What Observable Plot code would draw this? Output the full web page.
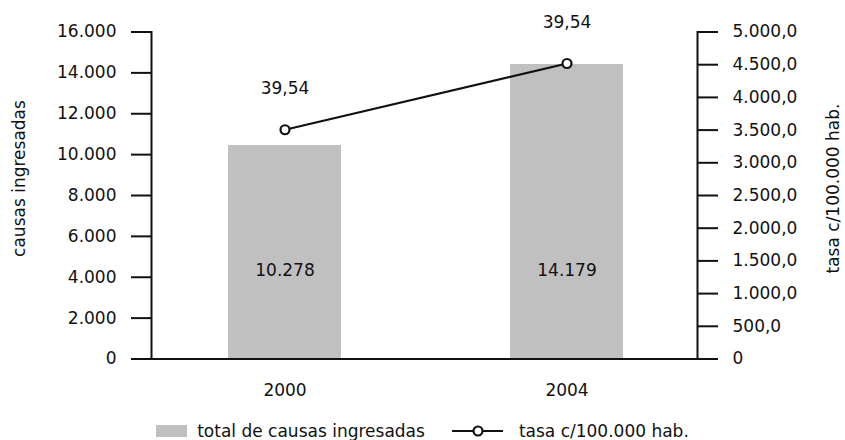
<!DOCTYPE html>
<html>
<head>
<meta charset="utf-8">
<script src="https://cdn.jsdelivr.net/npm/d3@7"></script>
<script src="https://cdn.jsdelivr.net/npm/@observablehq/plot@0.6"></script>
<style>
  body { margin: 0; background: #fff; font-family: "DejaVu Sans", sans-serif; color: #111; }
  #chart { width: 845px; }
  .legend { height: 30px; box-sizing: border-box; padding-top: 12px; display: flex; justify-content: center; align-items: center; font-size: 17px; }
  .legend .sw { display: inline-block; width: 31px; height: 12px; background: #c0c0c0; margin-right: 10px; }
  .legend svg { margin-left: 27px; margin-right: 16px; }
</style>
</head>
<body>
<div id="chart"></div>
<script>
// ---- data ----
const years = ["2000", "2004"];
const causas = [10446, 14410];            // bar heights as drawn (left axis)
const causasLabels = ["10.278", "14.179"]; // printed bar labels
const tasa = [3505, 4518];                // rate points (right axis units)
const tasaLabels = ["39,54", "39,54"];    // printed point labels
const leftTicks = [0, 2000, 4000, 6000, 8000, 10000, 12000, 14000, 16000];
const rightTicks = [0, 500, 1000, 1500, 2000, 2500, 3000, 3500, 4000, 4500, 5000];
const leftMax = 16000, rightMax = 5000;
const leftTitle = "causas ingresadas";
const rightTitle = "tasa c/100.000 hab.";
const legendBar = "total de causas ingresadas";
const legendLine = "tasa c/100.000 hab.";

// ---- build ----
const k = leftMax / rightMax;
const loc = d3.formatLocale({decimal: ",", thousands: ".", grouping: [3], currency: ["$", ""]});
const fInt = loc.format(",d");
const fDec = loc.format(",.1f");
const rows = years.map((y, i) => ({year: y, causas: causas[i], clabel: causasLabels[i], tasa: tasa[i] * k, tlabel: tasaLabels[i]}));

const fs = 17;
const chart = Plot.plot({
  width: 845,
  height: 410,
  marginLeft: 151,
  marginRight: 148,
  marginTop: 31.5,
  marginBottom: 51.5,
  style: {fontFamily: "DejaVu Sans", fontSize: fs + "px", color: "#111", background: "#fff"},
  x: {domain: years, paddingInner: 0.6, paddingOuter: 0.268, align: 0.51, label: null},
  y: {domain: [0, leftMax], nice: false, label: null},
  marks: [
    Plot.barY(rows, {x: "year", y: "causas", fill: "#c0c0c0"}),
    Plot.ruleY([0], {stroke: "#111", strokeWidth: 2}),
    Plot.frame({anchor: "left", stroke: "#111", strokeWidth: 2}),
    Plot.frame({anchor: "right", stroke: "#111", strokeWidth: 2}),
    Plot.axisY(leftTicks, {anchor: "left", tickSize: 20, tickPadding: 15, strokeWidth: 2, stroke: "#111", tickFormat: fInt, fontSize: fs, label: null}),
    Plot.axisY(rightTicks.map(d => d * k), {anchor: "right", tickSize: 20, tickPadding: 15, strokeWidth: 2, stroke: "#111", tickFormat: d => d === 0 ? "0" : fDec(d / k), fontSize: fs, label: null}),
    Plot.axisX({tickSize: 0, tickPadding: 25, fontSize: fs, label: null}),
    Plot.text([leftTitle], {frameAnchor: "left", textAnchor: "middle", lineAnchor: "middle", rotate: -90, dx: -132, dy: -17, fontSize: fs, fill: "#111"}),
    Plot.text([rightTitle], {frameAnchor: "right", textAnchor: "middle", lineAnchor: "middle", rotate: -90, dx: 136, dy: -7, fontSize: fs, fill: "#111"}),
    Plot.text(rows, {x: "year", text: "clabel", frameAnchor: "bottom", lineAnchor: "middle", dy: -88.5, fontSize: fs, fill: "#111"}),
    Plot.line(rows, {x: "year", y: "tasa", stroke: "#111", strokeWidth: 2.2}),
    Plot.dot(rows, {x: "year", y: "tasa", r: 4.5, fill: "#fff", stroke: "#111", strokeWidth: 2.2}),
    Plot.text(rows, {x: "year", y: "tasa", text: "tlabel", dy: -41, fontSize: fs, fill: "#111"})
  ]
});
document.getElementById("chart").appendChild(chart);

// ---- legend ----
const lg = document.createElement("div");
lg.className = "legend";
lg.innerHTML = `<span class="sw"></span><span>${legendBar}</span>` +
  `<svg width="51" height="14" viewBox="0 0 51 14"><line x1="0" y1="7" x2="51" y2="7" stroke="#111" stroke-width="2.2"/><circle cx="26" cy="7" r="4.5" fill="#fff" stroke="#111" stroke-width="2.2"/></svg>` +
  `<span>${legendLine}</span>`;
document.getElementById("chart").appendChild(lg);
</script>
</body>
</html>
